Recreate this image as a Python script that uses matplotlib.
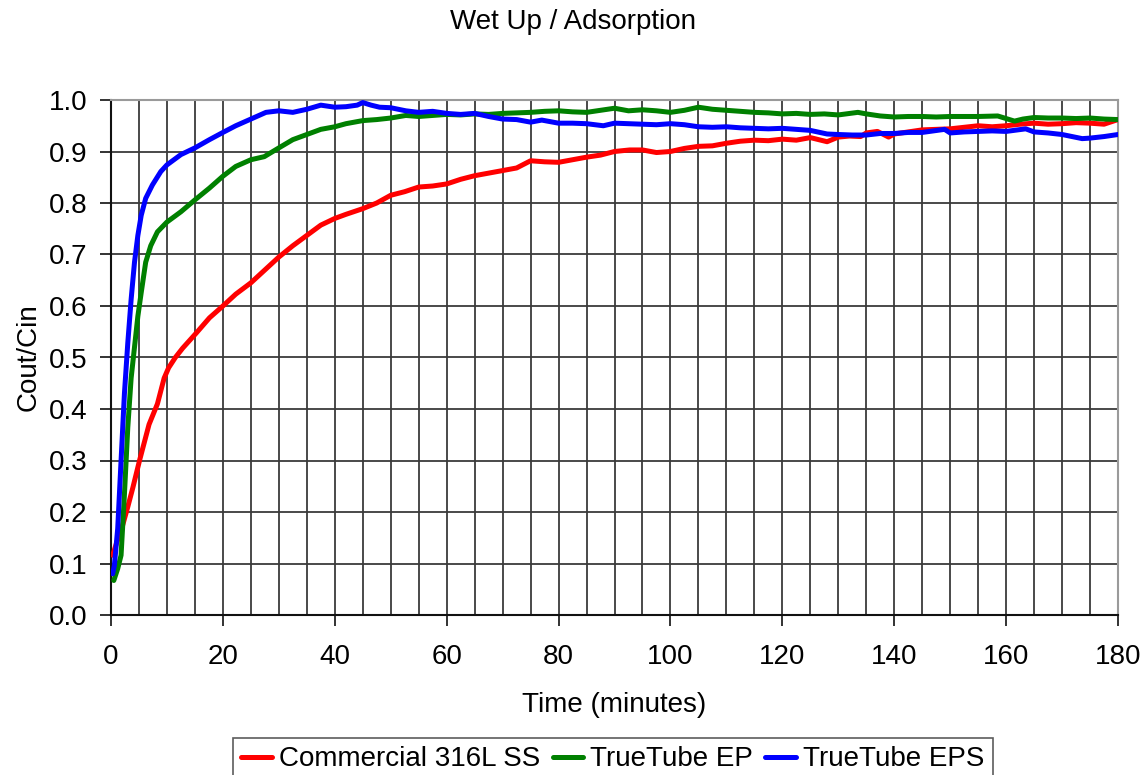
import matplotlib
matplotlib.use("Agg")
import matplotlib.pyplot as plt
from matplotlib.ticker import MultipleLocator

plt.rcParams['font.family'] = ['Liberation Sans', 'DejaVu Sans']

title = "Wet Up / Adsorption"
xlabel = "Time (minutes)"
ylabel = "Cout/Cin"
series_names = ["Commercial 316L SS", "TrueTube EP", "TrueTube EPS"]
series_colors = ["#ff0000", "#008000", "#0000ff"]

red_t = [0.3, 1, 2.1, 3, 3.9, 5.1, 6.8, 8.3, 9.5, 10.3, 11.5, 12.8, 15.2, 17.6, 20, 22.3, 25, 27.7, 30, 32.5,
         35, 37.5, 40, 42, 45, 47.5, 50, 52.5, 55, 57.5, 60, 62.5, 65, 67.5, 70, 72.5, 75, 77.5, 80, 82.5,
         85, 87.5, 90, 92.7, 95, 97.5, 100, 102.5, 105, 107.5, 110, 112.5, 115, 117.5, 120, 122.5, 125, 128,
         130, 132, 134, 135, 137, 139, 140, 142.5, 145, 147.5, 150, 152.5, 155, 157.5, 160, 162.5, 165, 167.5,
         170, 172.5, 175, 177.5, 180]
red_v = [0.116, 0.14, 0.175, 0.21, 0.247, 0.30, 0.37, 0.41, 0.46, 0.48, 0.50, 0.518, 0.547, 0.577, 0.60, 0.623,
         0.645, 0.672, 0.695, 0.717, 0.737, 0.757, 0.77, 0.778, 0.789, 0.80, 0.815, 0.822, 0.831, 0.833, 0.837,
         0.846, 0.853, 0.858, 0.863, 0.868, 0.882, 0.88, 0.879, 0.884, 0.889, 0.893, 0.90, 0.903, 0.903, 0.898,
         0.90, 0.906, 0.91, 0.911, 0.916, 0.92, 0.922, 0.921, 0.924, 0.922, 0.927, 0.919, 0.928, 0.93, 0.929,
         0.936, 0.939, 0.928, 0.934, 0.938, 0.942, 0.943, 0.944, 0.947, 0.95, 0.948, 0.95, 0.953, 0.955, 0.953,
         0.954, 0.956, 0.955, 0.953, 0.962]

green_t = [0.5, 1.2, 1.8, 2.4, 3, 3.6, 4.2, 4.8, 5.4, 6.2, 7.1, 8.3, 10, 12.5, 15, 17.6, 20, 22.3, 25, 27.4,
           30, 32.5, 35, 37.5, 40, 42, 45, 47.5, 50, 52.7, 55, 57.5, 60, 62.5, 65, 67.5, 70, 72.5, 75, 77.5,
           80, 82.5, 85, 87.5, 90, 92.5, 95, 97.5, 100, 102.5, 105, 107.5, 110, 112.5, 115, 117.5, 120, 122.5,
           125, 127.5, 130, 133.5, 135, 137.5, 140, 142.5, 145, 147.5, 150, 152.5, 155, 158.5, 161.5, 163, 165,
           167.5, 170, 172.5, 175, 177.5, 180]
green_v = [0.067, 0.09, 0.116, 0.234, 0.364, 0.46, 0.52, 0.58, 0.626, 0.685, 0.717, 0.744, 0.763, 0.783, 0.806,
           0.829, 0.852, 0.871, 0.884, 0.89, 0.907, 0.923, 0.933, 0.943, 0.948, 0.954, 0.96, 0.962, 0.965, 0.97,
           0.968, 0.97, 0.972, 0.971, 0.973, 0.972, 0.974, 0.975, 0.976, 0.978, 0.979, 0.977, 0.976, 0.98, 0.984,
           0.979, 0.981, 0.979, 0.976, 0.98, 0.986, 0.982, 0.98, 0.978, 0.976, 0.975, 0.973, 0.974, 0.972, 0.973,
           0.971, 0.976, 0.973, 0.969, 0.967, 0.968, 0.968, 0.967, 0.968, 0.968, 0.968, 0.969, 0.959, 0.963,
           0.966, 0.965, 0.965, 0.964, 0.965, 0.963, 0.962]

blue_t = [0.3, 0.6, 1.2, 1.8, 2.4, 3, 3.6, 4.2, 4.8, 5.4, 6.2, 7.4, 8.9, 10, 12.5, 15, 17.6, 20, 22.3, 25,
          27.7, 30, 32.5, 35, 37.5, 40, 42, 44, 45, 46.5, 48, 50, 52.7, 55, 57.5, 60, 62.5, 65, 67.5, 70,
          72.5, 75, 77, 80, 82.5, 85, 88, 90, 92.5, 95, 97.5, 100, 102.5, 105, 107.5, 110, 112.5, 115, 117.5,
          120, 122.5, 125, 128, 130, 132.5, 135, 137.5, 140, 142.5, 145, 149, 150, 152.5, 155, 157.5, 160,
          163.5, 165, 167.5, 170, 173.6, 175, 177.5, 180]
blue_v = [0.08, 0.096, 0.168, 0.30, 0.43, 0.528, 0.613, 0.685, 0.737, 0.776, 0.809, 0.835, 0.861, 0.874, 0.894,
          0.907, 0.923, 0.937, 0.95, 0.963, 0.976, 0.979, 0.976, 0.982, 0.99, 0.986, 0.987, 0.99, 0.995, 0.99,
          0.986, 0.985, 0.979, 0.976, 0.978, 0.974, 0.972, 0.974, 0.968, 0.963, 0.962, 0.957, 0.961, 0.955,
          0.955, 0.954, 0.95, 0.955, 0.954, 0.953, 0.952, 0.954, 0.952, 0.948, 0.947, 0.948, 0.946, 0.945,
          0.944, 0.945, 0.943, 0.941, 0.934, 0.933, 0.932, 0.932, 0.935, 0.935, 0.937, 0.937, 0.943, 0.936,
          0.938, 0.939, 0.94, 0.939, 0.944, 0.938, 0.936, 0.933, 0.925, 0.926, 0.929, 0.933]

FS = 20

fig = plt.figure(figsize=(11.45, 7.75), dpi=100)
ax = fig.add_axes([111/1145, 1-615/775, (1118-111)/1145, (615-100)/775])

for t, v, name, c in zip([red_t, green_t, blue_t], [red_v, green_v, blue_v], series_names, series_colors):
    ax.plot(t, v, color=c, lw=3.6, label=name, solid_capstyle='round', solid_joinstyle='round', zorder=3)

ax.set_xlim(0, 180)
ax.set_ylim(0, 1.0)
ax.xaxis.set_major_locator(MultipleLocator(20))
ax.xaxis.set_minor_locator(MultipleLocator(5))
ax.yaxis.set_major_locator(MultipleLocator(0.1))
ax.yaxis.set_major_formatter(plt.FuncFormatter(lambda v, p: f"{v:.1f}"))
ax.grid(True, which='both', axis='x', color='#3a3a3a', lw=1.3)
ax.grid(True, which='major', axis='y', color='#3a3a3a', lw=1.3)
ax.tick_params(axis='x', which='minor', length=0)
ax.tick_params(axis='both', which='major', direction='out', length=8, width=1.3, labelsize=FS, color='#222222')
ax.tick_params(axis='x', which='major', pad=13)
ax.tick_params(axis='y', which='major', pad=9)
for s in ['left', 'bottom']:
    ax.spines[s].set_color('#111111')
    ax.spines[s].set_linewidth(1.5)
for s in ['top', 'right']:
    ax.spines[s].set_color('#9a9a9a')
    ax.spines[s].set_linewidth(1.5)

ax.set_xlabel(xlabel, fontsize=FS, labelpad=16)
ax.set_ylabel(ylabel, fontsize=FS, labelpad=5)
fig.text(0.5, 1-22/775, title, ha='center', va='center', fontsize=FS)

leg = fig.legend(loc='upper left', bbox_to_anchor=(233/1145, 1-738/775), ncol=3, fontsize=FS,
                 frameon=True, fancybox=False, edgecolor='#333333', handlelength=1.1,
                 handletextpad=0.25, columnspacing=0.45, borderpad=0.3, borderaxespad=0)
leg.get_frame().set_linewidth(1.2)
for line in leg.get_lines():
    line.set_linewidth(3.6)

fig.savefig("out.png", dpi=100)
